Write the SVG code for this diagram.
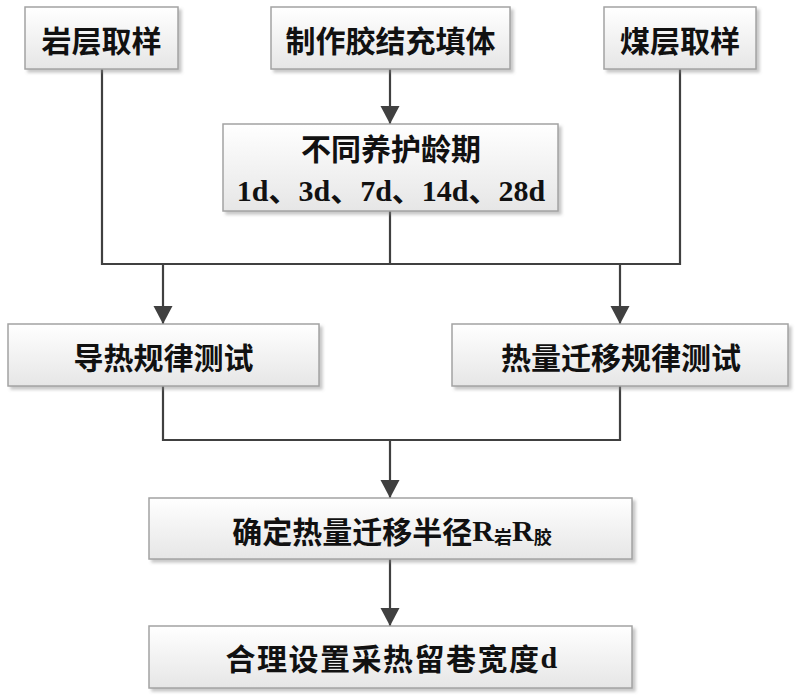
<svg xmlns="http://www.w3.org/2000/svg" width="800" height="699" viewBox="0 0 800 699">
<style>
.box{fill:url(#g);stroke:#a3a3a3;stroke-width:1.5;filter:url(#sh)}
.t{font-family:"Noto Sans CJK SC","Noto Sans",sans-serif;font-weight:bold;font-size:30px;fill:#111;text-anchor:middle;dominant-baseline:central}
.s{font-family:"Liberation Serif","Noto Sans CJK SC",serif;font-weight:bold;font-size:30px;fill:#111;text-anchor:middle;dominant-baseline:central}
.ln{fill:none;stroke:#404040;stroke-width:2.2}
.ar{marker-end:url(#ah)}
</style>
<defs>
<linearGradient id="g" x1="0" y1="0" x2="0" y2="1">
<stop offset="0" stop-color="#ffffff"/>
<stop offset="1" stop-color="#e6e6e6"/>
</linearGradient>
<filter id="sh" x="-5%" y="-10%" width="115%" height="140%">
<feDropShadow dx="3" dy="3" stdDeviation="1.5" flood-color="#888" flood-opacity="0.45"/>
</filter>
<marker id="ah" markerUnits="userSpaceOnUse" markerWidth="20" markerHeight="20" viewBox="0 0 20 20" refX="18" refY="10" orient="auto">
<path d="M0,0.5 L18,10 L0,19.5 Z" fill="#404040"/>
</marker>
</defs>
<rect width="800" height="699" fill="#fff"/>
<g id="connectors">
<path class="ln ar" d="M390,69 V124"/>
<path class="ln" d="M102,69 V264 H680 V69"/>
<path class="ln" d="M390,211 V264"/>
<path class="ln ar" d="M163,264 V324"/>
<path class="ln ar" d="M620,264 V324"/>
<path class="ln" d="M163,386 V440 H620 V386"/>
<path class="ln ar" d="M390,440 V498"/>
<path class="ln ar" d="M390,559 V626"/>
</g>
<g id="n1"><rect class="box" x="25" y="7" width="153" height="62"/><text class="t" x="101.5" y="39">岩层取样</text></g>
<g id="n2"><rect class="box" x="271" y="7" width="239" height="62"/><text class="t" x="390.5" y="39">制作胶结充填体</text></g>
<g id="n3"><rect class="box" x="604" y="7" width="152" height="62"/><text class="t" x="680" y="39">煤层取样</text></g>
<g id="n4"><rect class="box" x="223" y="124" width="335" height="87"/><text class="t" x="391" y="147">不同养护龄期</text><text class="s" x="391" y="190">1d、3d、7d、14d、28d</text></g>
<g id="n5"><rect class="box" x="8" y="324" width="311" height="62"/><text class="t" x="163.5" y="356">导热规律测试</text></g>
<g id="n6"><rect class="box" x="452" y="324" width="336" height="62"/><text class="t" x="621" y="356">热量迁移规律测试</text></g>
<g id="n7"><rect class="box" x="149" y="498" width="483" height="61"/><text class="t" x="392" y="530">确定热量迁移半径<tspan style="font-family:'Liberation Serif',serif">R</tspan><tspan font-size="18" dy="6">岩</tspan><tspan dy="-6" style="font-family:'Liberation Serif',serif">R</tspan><tspan font-size="18" dy="6">胶</tspan></text></g>
<g id="n8"><rect class="box" x="149" y="626" width="483" height="62"/><text class="t" x="392" y="657" letter-spacing="1.5">合理设置采热留巷宽度<tspan style="font-family:'Liberation Serif',serif">d</tspan></text></g>
</svg>
